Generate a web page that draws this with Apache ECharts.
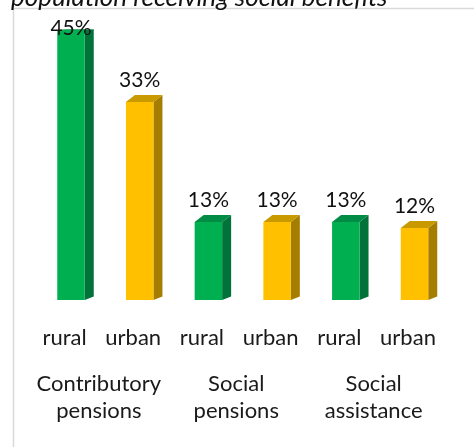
<!DOCTYPE html>
<html>
<head>
<meta charset="utf-8">
<script src="https://cdn.jsdelivr.net/npm/echarts@6/dist/echarts.min.js"></script>
<style>
  html, body { margin: 0; padding: 0; background: #fff; }
  #chart { width: 474px; height: 447px; }
</style>
</head>
<body>
<div id="chart"></div>
<script>
// Share of population receiving each benefit, by area
const categories = ['rural', 'urban', 'rural', 'urban', 'rural', 'urban'];
const groups = ['Contributory\npensions', 'Social\npensions', 'Social\nassistance'];
const shares = [45, 33, 13, 13, 13, 12];
const titleText = 'population receiving social benefits';

const FONT = 'Lato, "Noto Sans", sans-serif';
const palette = {
  rural: { front: '#00b050', side: '#00723a', top: '#008c44' },
  urban: { front: '#ffc000', side: '#a57d00', top: '#c89a00' }
};

// Pseudo-3D column: front face, right side face and top face
function renderColumn(params, api) {
  const idx = api.value(0);
  const val = api.value(1);
  const top = api.coord([idx, val]);
  const base = api.coord([idx, 0]);
  const band = api.size([1, 0])[0];
  const w = band * 0.4;
  const depth = 9;
  const cx = top[0] + 6.5;
  const xl = cx - w / 2, xr = cx + w / 2;
  const yt = top[1], yb = base[1];
  // top face foreshortens as the column gets close to the top of the plot
  const dy = -7 * Math.max(0, Math.min(1, (yt - 22) / 70));
  const c = palette[categories[idx]];
  const labelY = Math.max(yt + dy - 15, 28);
  return {
    type: 'group',
    children: [
      { type: 'polygon', shape: { points: [[xr, yb], [xr + depth, yb - 3.5], [xr + depth, yt + dy], [xr, yt]] },
        style: { fill: c.side } },
      { type: 'polygon', shape: { points: [[xl, yt], [xr, yt], [xr + depth, yt + dy], [xl + depth, yt + dy]] },
        style: { fill: c.top } },
      { type: 'rect', shape: { x: xl, y: yt, width: w, height: yb - yt },
        style: { fill: c.front } },
      { type: 'text', x: cx, y: labelY,
        style: { text: val + '%', fill: '#111', font: '21px ' + FONT, align: 'center', verticalAlign: 'middle' } }
    ]
  };
}

const chart = echarts.init(document.getElementById('chart'), null, { renderer: 'canvas' });
chart.setOption({
  animation: false,
  backgroundColor: '#ffffff',
  grid: { left: 30.15, right: 31.65, top: -1.5, bottom: 147, containLabel: false },
  xAxis: [
    {
      type: 'category', data: categories,
      axisLine: { show: false }, axisTick: { show: false },
      axisLabel: { color: '#1a1a1a', fontFamily: FONT, fontSize: 22, margin: 27, interval: 0 }
    },
    {
      type: 'category', data: groups, position: 'bottom',
      axisLine: { show: false }, axisTick: { show: false },
      axisLabel: { color: '#1a1a1a', fontFamily: FONT, fontSize: 22, lineHeight: 27, margin: 70, interval: 0 }
    }
  ],
  yAxis: { type: 'value', min: 0, max: 50, show: false },
  series: [{
    type: 'custom',
    xAxisIndex: 0,
    renderItem: renderColumn,
    data: shares.map((v, i) => [i, v])
  }],
  graphic: [
    { type: 'rect', shape: { x: 13.5, y: 8.5, width: 480, height: 460 },
      style: { fill: 'none', stroke: '#d9d9d9', lineWidth: 1.5 }, silent: true },
    { type: 'text', x: 11, y: 11,
      style: { text: titleText, fill: '#111', font: 'italic 26px ' + FONT, verticalAlign: 'bottom' } }
  ]
});
</script>
</body>
</html>
